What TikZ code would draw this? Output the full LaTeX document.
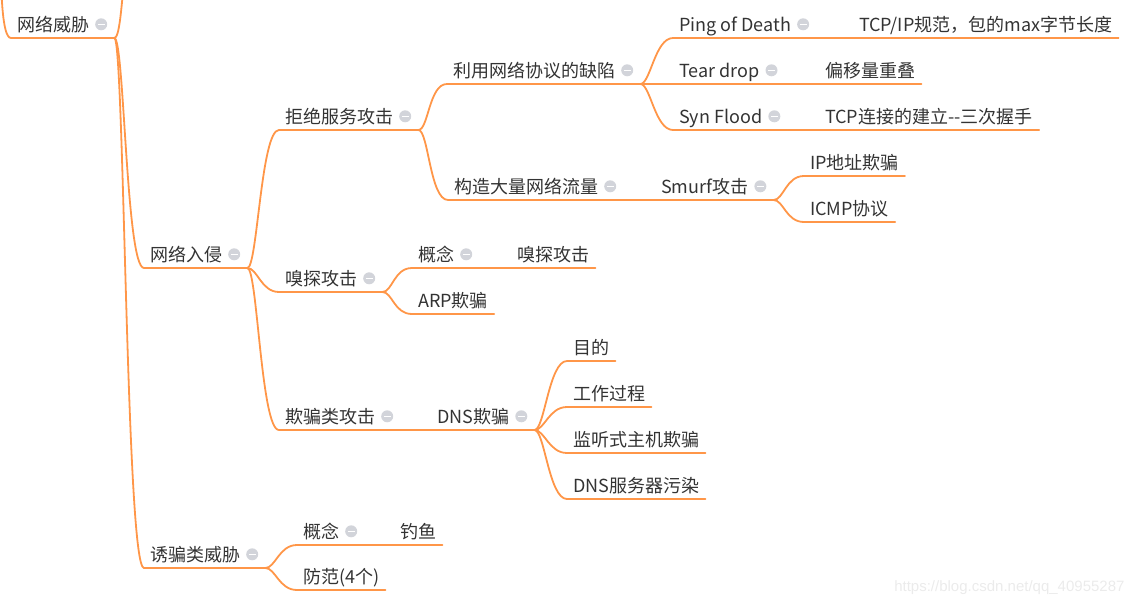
\documentclass[tikz,border=0pt]{standalone}
\usepackage{fontspec}
\setmainfont{Noto Sans CJK SC}
\newfontfamily\wasserfont{Liberation Sans}
\definecolor{astfarbe}{RGB}{255,150,72}
\definecolor{textfarbe}{RGB}{51,51,51}
\definecolor{knopffarbe}{RGB}{210,212,218}
% Ast vom Elternknoten zum Kind, mit Unterstrich
\newcommand{\zweig}[2]{\draw[ast] (#1.south east) .. controls +(10,0) and +(-18,0) .. (#2.south west) -- (#2.south east);}
\tikzset{
  ast/.style={draw=astfarbe, line width=1.8pt, line cap=round},
  thema/.style={anchor=south west, inner xsep=6pt, inner ysep=3.5pt, text height=13pt, text depth=3pt,
    font=\fontsize{18}{20}\selectfont, text=textfarbe},
  zu/.style={thema, execute at end node={\hspace*{19pt}},
    path picture={
      \fill[knopffarbe] ([xshift=-13pt,yshift=2pt]path picture bounding box.east) circle (6pt);
      \draw[white, line width=1.6pt] ([xshift=-16.5pt,yshift=2pt]path picture bounding box.east) -- ++(7pt,0pt);
    }}
}
\begin{document}
\begin{tikzpicture}[x=1pt, y=-1pt]
        \useasboundingbox (0,0) rectangle (1137,608);
        \clip (0,0) rectangle (1137,608);
        % ausserhalb des Bildes
        \coordinate (wurzel) at (-4,-150);
        \coordinate (oben) at (140,-80);
        % Knoten
        \node[zu] (netw) at (11,38) {网络威胁};
        \node[zu] (einbr) at (144,268) {网络入侵};
        \node[zu] (dos) at (279,130) {拒绝服务攻击};
        \node[zu] (proto) at (447,84) {利用网络协议的缺陷};
        \node[zu] (ping) at (673,38) {Ping of Death};
        \node[thema] (pingk) at (853,38) {TCP/IP规范，包的max字节长度};
        \node[zu] (tear) at (673,84) {Tear drop};
        \node[thema] (teark) at (819,84) {偏移量重叠};
        \node[zu] (syn) at (673,130) {Syn Flood};
        \node[thema] (synk) at (819,130) {TCP连接的建立-{}-三次握手};
        \node[zu] (flut) at (448,200) {构造大量网络流量};
        \node[zu] (smurf) at (655,200) {Smurf攻击};
        \node[thema] (ipb) at (804,176) {IP地址欺骗};
        \node[thema] (icmp) at (804,222) {ICMP协议};
        \node[zu] (sniff) at (279,292) {嗅探攻击};
        \node[zu] (konz) at (412,268) {概念};
        \node[thema] (konzk) at (511,268) {嗅探攻击};
        \node[thema] (arp) at (412,314) {ARP欺骗};
        \node[zu] (betr) at (279,430) {欺骗类攻击};
        \node[zu] (dns) at (431,430) {DNS欺骗};
        \node[thema] (ziel) at (567,361) {目的};
        \node[thema] (ablauf) at (567,407) {工作过程};
        \node[thema] (abhoer) at (567,453) {监听式主机欺骗};
        \node[thema] (vergift) at (567,499) {DNS服务器污染};
        \node[zu] (koed) at (144,568) {诱骗类威胁};
        \node[zu] (konz2) at (297,545) {概念};
        \node[thema] (angel) at (394,545) {钓鱼};
        \node[thema] (schutz) at (297,590) {防范(4个)};
        % Aeste
        \zweig{wurzel}{netw}
        \zweig{netw}{oben}
        \zweig{netw}{einbr}
        \zweig{netw}{koed}
        \zweig{einbr}{dos}
        \zweig{einbr}{sniff}
        \zweig{einbr}{betr}
        \zweig{dos}{proto}
        \zweig{dos}{flut}
        \zweig{proto}{ping}
        \zweig{proto}{tear}
        \zweig{proto}{syn}
        \zweig{ping}{pingk}
        \zweig{tear}{teark}
        \zweig{syn}{synk}
        \zweig{flut}{smurf}
        \zweig{smurf}{ipb}
        \zweig{smurf}{icmp}
        \zweig{sniff}{konz}
        \zweig{sniff}{arp}
        \zweig{konz}{konzk}
        \zweig{betr}{dns}
        \zweig{dns}{ziel}
        \zweig{dns}{ablauf}
        \zweig{dns}{abhoer}
        \zweig{dns}{vergift}
        \zweig{koed}{konz2}
        \zweig{koed}{schutz}
        \zweig{konz2}{angel}
        % Wasserzeichen
        \node[anchor=east, font=\wasserfont\fontsize{15}{15}\selectfont, text=black!8] (wasser) at (1128,588) {https://blog.csdn.net/qq\_40955287};
\end{tikzpicture}
\end{document}
